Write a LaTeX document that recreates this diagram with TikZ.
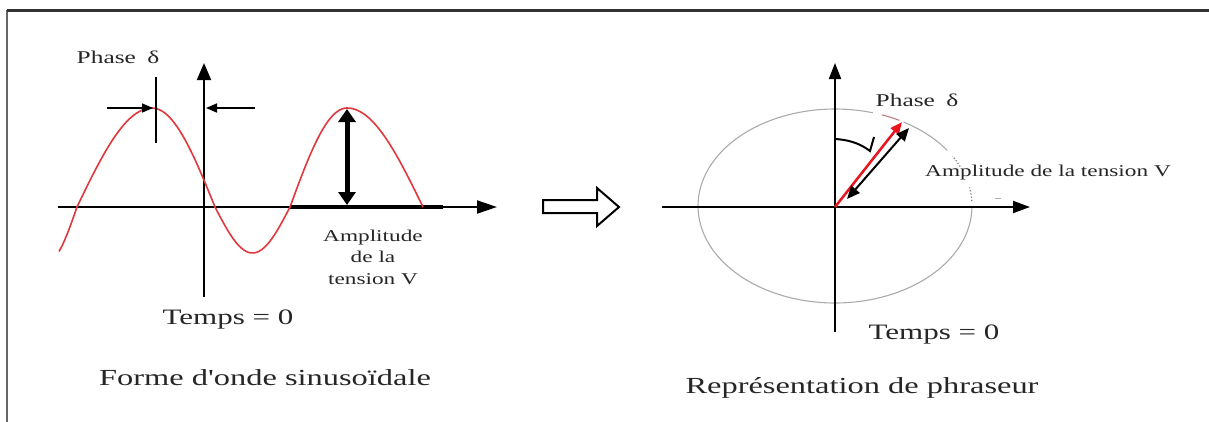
\documentclass[tikz,border=0pt]{standalone}
\usepackage{fontspec}
\setmainfont{Liberation Serif}
\usetikzlibrary{arrows.meta}
\definecolor{txt}{HTML}{262626}
\definecolor{wave}{HTML}{E0383C}
\definecolor{phasor}{HTML}{E8141E}
\definecolor{circ}{HTML}{ABABAB}
\begin{document}
\begin{tikzpicture}[x=1pt,y=-1pt,
  lbl/.style={text=txt, inner sep=0pt, anchor=base, xscale=1.41},
  axisline/.style={line width=2pt, black},
  smallhead/.style={-{Triangle[length=11pt,width=9pt]}},
  circarc/.style={circ, line width=1.1pt},
  circdots/.style={circ!70!black, line width=1.2pt, dotted}]
\useasboundingbox (0,0) rectangle (1209,421);
\fill[white] (0,0) rectangle (1209,421);
% frame
\coordinate (F1) at (7,425);
\coordinate (F2) at (7,10);
\coordinate (F3) at (1212,10);
\draw[line width=2.5pt, black!60] (F1) -- (F2);
\draw[line width=3pt, black!80] (F2) -- (F3);

% ---------- left diagram ----------
\coordinate (LxA) at (58,207);
\coordinate (LxB) at (497,207);
\coordinate (LyA) at (204,297);
\coordinate (LyB) at (204,63);
\draw[axisline, -{Triangle[length=20pt,width=13pt]}] (LxA) -- (LxB);
\draw[axisline, -{Triangle[length=17pt,width=14pt]}] (LyA) -- (LyB);
\coordinate (base1) at (290,207);
\coordinate (base2) at (443,207);
\draw[line width=4pt] (base1) -- (base2);

\draw[wave, line width=1.6pt]
  plot[domain=59:77, samples=10] (\x,{207+55*sin(90*(77-\x)/30)})
  -- plot[domain=77:152, samples=30] (\x,{207-99*sin(90*(\x-77)/75)})
  -- plot[domain=152:215, samples=30] (\x,{207-99*cos(90*(\x-152)/63)})
  -- plot[domain=215:290, samples=30] (\x,{207+46*sin(180*(\x-215)/75)})
  -- plot[domain=290:347, samples=30] (\x,{207-99*sin(90*(\x-290)/57)})
  -- plot[domain=347:423, samples=30] (\x,{207-99*cos(90*(\x-347)/76)});

\coordinate (tickA) at (156,77);
\coordinate (tickB) at (156,143);
\draw[line width=2pt] (tickA) -- (tickB);
\coordinate (pa1) at (107,108);
\coordinate (pa2) at (153,108);
\coordinate (pb1) at (255,108);
\coordinate (pb2) at (206,108);
\draw[line width=1.6pt, smallhead] (pa1) -- (pa2);
\draw[line width=1.6pt, smallhead] (pb1) -- (pb2);
\coordinate (amA) at (347,109);
\coordinate (amB) at (347,205);
\draw[line width=5pt, {Triangle[length=13pt,width=17pt]}-{Triangle[length=13pt,width=17pt]}] (amA) -- (amB);

\node[lbl, font=\fontsize{18}{20}\selectfont] (phL) at (118,63) {Phase\hspace{0.45em}δ};
\node[lbl, anchor=center, align=center, font=\fontsize{16.5}{21.5}\selectfont] (ampL) at (373,257) {Amplitude\\de la\\tension V};
\node[lbl, font=\fontsize{22}{24}\selectfont] (tL) at (228,324) {Temps = 0};
\node[lbl, font=\fontsize{23}{25}\selectfont] (titL) at (265,385) {Forme d\textquotesingle onde sinusoïdale};

% ---------- hollow arrow ----------
\draw[line width=2pt, fill=white] (543,200) -- (597,200) -- (597,188) -- (619,207)
  -- (597,226) -- (597,213) -- (543,213) -- cycle;

% ---------- right diagram ----------
\coordinate (O) at (835,207);
\coordinate (RxA) at (662,207);
\coordinate (RxB) at (1030,207);
\coordinate (RyA) at (835,332);
\coordinate (RyB) at (835,63);
\draw[circarc] plot[domain=74:360, samples=120] ({835+137*cos(\x)},{206-97*sin(\x)});
\draw[circ!60!wave, line width=1.1pt] plot[domain=62:70, samples=10] ({835+137*cos(\x)},{206-97*sin(\x)});
\draw[circarc] plot[domain=35:60, samples=20] ({835+137*cos(\x)},{206-97*sin(\x)});
\draw[circdots] plot[domain=24:31, samples=6] ({835+137*cos(\x)},{206-97*sin(\x)});
\draw[circdots] plot[domain=3:11, samples=6] ({835+137*cos(\x)},{206-97*sin(\x)});
\coordinate (dsA) at (995,198);
\coordinate (dsB) at (1001,198);
\draw[circ, line width=1pt] (dsA) -- (dsB);

\draw[axisline, -{Triangle[length=17pt,width=12pt]}] (RxA) -- (RxB);
\draw[axisline, -{Triangle[length=16pt,width=12pt]}] (RyA) -- (RyB);

\coordinate (Ptip) at (902,122);
\draw[phasor, line width=2.5pt, -{Triangle[length=12pt,width=10pt]}] (O) -- (Ptip);
\coordinate (dA) at (847,199);
\coordinate (dB) at (909,128);
\draw[line width=2pt, {Triangle[length=13pt,width=11pt]}-{Triangle[length=13pt,width=11pt]}] (dA) -- (dB);

\coordinate (cA) at (835,139);
\coordinate (cB) at (870,151);
\coordinate (cC) at (874,137);
\draw[line width=2pt] (cA) .. controls (852,140) and (862,145) .. (cB) -- (cC);

\node[lbl, font=\fontsize{18}{20}\selectfont] (phR) at (917,106) {Phase\hspace{0.45em}δ};
\node[lbl, font=\fontsize{16.5}{20}\selectfont] (ampR) at (1048,176) {Amplitude de la tension V};
\node[lbl, font=\fontsize{22}{24}\selectfont] (tR) at (934,339) {Temps = 0};
\node[lbl, font=\fontsize{23}{25}\selectfont] (titR) at (862,393) {Représentation de phraseur};
\end{tikzpicture}
\end{document}
